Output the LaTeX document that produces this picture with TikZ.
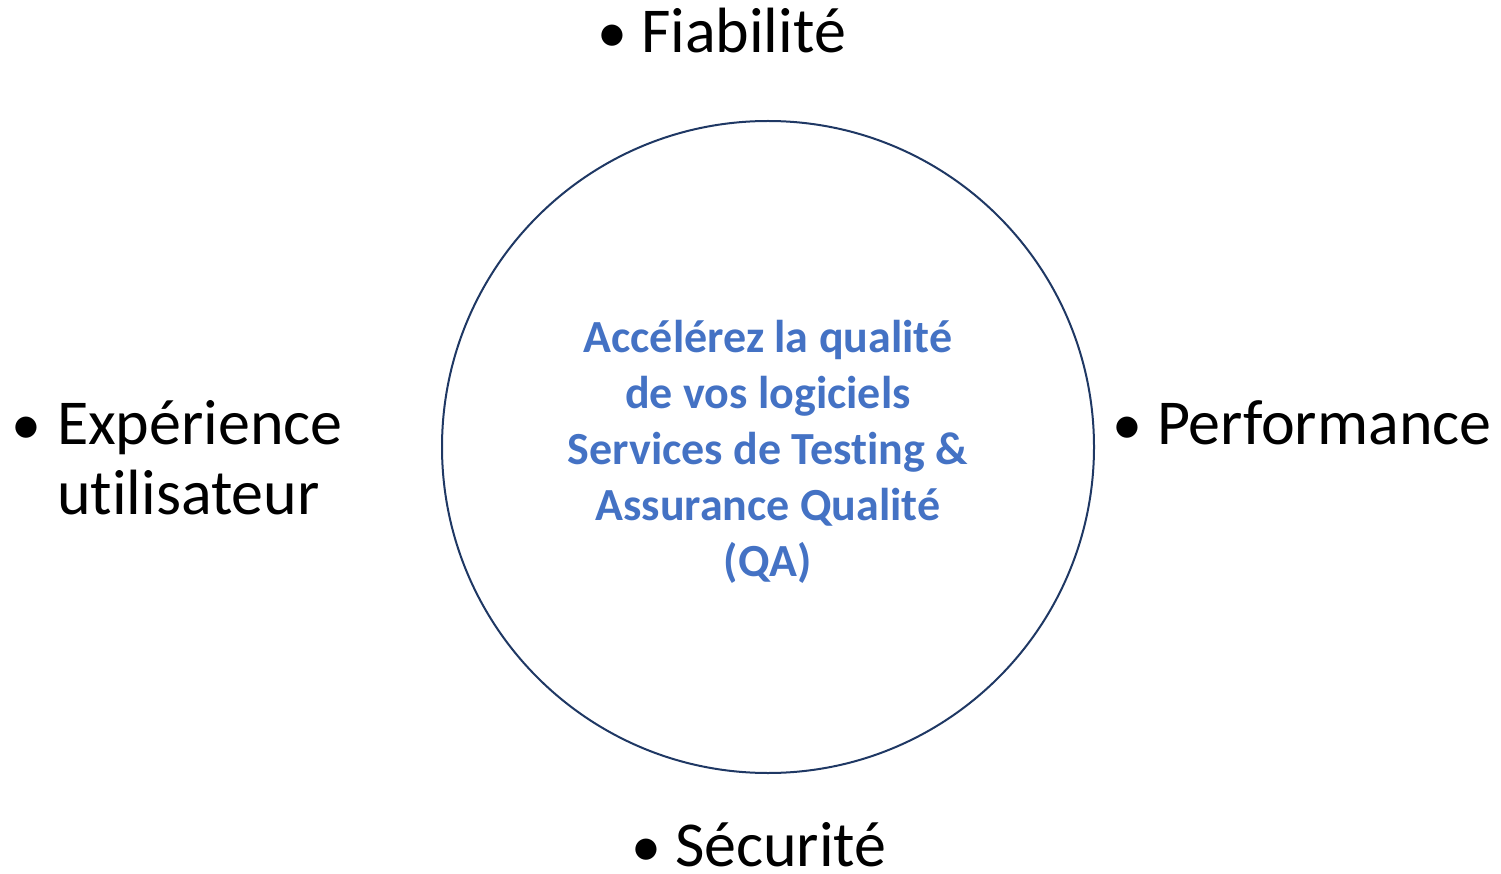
\documentclass[tikz,border=0pt]{standalone}
\usepackage{fontspec}
\setmainfont{Carlito}[RawFeature={-liga}]
\usetikzlibrary{positioning}
\definecolor{qablue}{HTML}{4472C4}
\definecolor{ringnavy}{HTML}{1F3864}

\begin{document}
\begin{tikzpicture}[%
    x=1pt, y=-1pt,                       % one unit per pixel, top-down
    every node/.style={inner sep=0pt, outer sep=0pt}]
% -------------------------------------------------
% styles
\tikzset{
  ring/.style={circle, draw=ringnavy, line width=2pt, minimum size=652pt},
  slogan/.style={align=center, text=qablue,
    font={\fontsize{46}{56}\selectfont\bfseries}},
  bullet/.style={anchor=base west, font={\fontsize{60}{70}\selectfont}},
  item/.style={anchor=base west, align=left,
    font={\fontsize{64}{70}\selectfont}}
}
\useasboundingbox (0,0) rectangle (1501,874);
% -------------------------------------------------
% the circle in the middle
\node [ring] (core) at (768,447) {};
\node [slogan] (claim) at (768,452) {Accélérez la qualité\\de vos logiciels\\Services de Testing \&\\Assurance Qualité\\(QA)};

% -------------------------------------------------
% the four items round it
% (base west of a two-line node sits on its last line)
\node [bullet] (b1) at (597,53) {•};
\node [item] (fiab) at (641,53) {Fiabilité};

\node [bullet] (b2) at (12,444) {•};
\node [item] (ux) at (57,514) {Expérience\\utilisateur};

\node [bullet] (b3) at (1112,444) {•};
\node [item] (perf) at (1157,444) {Performance};

\node [bullet, text depth=0pt] (b4) at (631,866) {•};
\node [item, text depth=0pt] (secu) at (675,866) {Sécurité};
\end{tikzpicture}
\end{document}
